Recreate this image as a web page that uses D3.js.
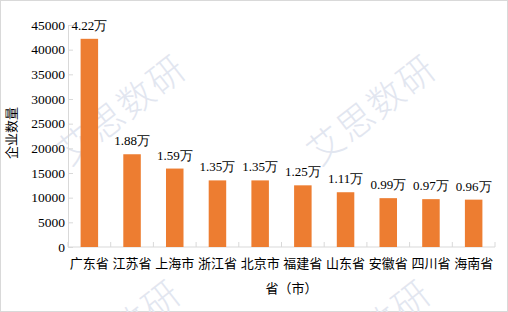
<!DOCTYPE html>
<html>
<head>
<meta charset="utf-8">
<script src="https://cdn.jsdelivr.net/npm/d3@7"></script>
<style>
  body { margin: 0; background: #fff; }
  svg { display: block; }
  .num { font-family: "Liberation Serif", "Times New Roman", serif; font-size: 13px; fill: #000; }
  .tick-num { font-family: "Liberation Serif", "Times New Roman", serif; font-size: 13.5px; fill: #000; }
  .cjk { font-family: "Noto Sans CJK SC", sans-serif; font-size: 13px; fill: #000; }
</style>
</head>
<body>
<svg width="508" height="312"></svg>
<script>
const provinces = ['广东省', '江苏省', '上海市', '浙江省', '北京市', '福建省', '山东省', '安徽省', '四川省', '海南省'];
const companyCounts = [42200, 18800, 15900, 13500, 13500, 12500, 11100, 9900, 9700, 9600];
const valueLabels = ['4.22万', '1.88万', '1.59万', '1.35万', '1.35万', '1.25万', '1.11万', '0.99万', '0.97万', '0.96万'];
const yTicks = [0, 5000, 10000, 15000, 20000, 25000, 30000, 35000, 40000, 45000];

const svg = d3.select('svg');
const width = parseInt(svg.attr('width'));
const height = parseInt(svg.attr('height'));

const margin = { top: 25, right: 13, bottom: 65, left: 68 };
const innerWidth = width - margin.left - margin.right;
const innerHeight = height - margin.top - margin.bottom;

// outer border
svg.append('rect')
  .attr('x', 0.5).attr('y', 0.5)
  .attr('width', width - 1).attr('height', height - 1)
  .attr('fill', '#fff')
  .attr('stroke', '#d9d9d9');

// watermarks, behind everything, clipped to the frame
svg.append('clipPath').attr('id', 'frame')
  .append('rect').attr('width', width).attr('height', height);

const marks = [[122, 110], [372, 110], [117, 335], [367, 335]];
svg.append('g').attr('clip-path', 'url(#frame)')
  .selectAll('.wm').data(marks)
  .enter().append('text')
    .attr('class', 'wm')
    .attr('transform', d => `translate(${d[0]},${d[1]}) rotate(-38)`)
    .attr('text-anchor', 'middle')
    .attr('dy', '0.35em')
    .attr('font-family', '"Noto Sans CJK SC", sans-serif')
    .attr('font-size', 36)
    .attr('font-weight', 300)
    .attr('letter-spacing', 2)
    .attr('fill', '#e2e6f0')
    .text('艾思数研');

const g = svg.append('g')
  .attr('transform', `translate(${margin.left},${margin.top})`);

const xScale = d3.scaleBand()
  .domain(provinces)
  .range([0, innerWidth])
  .paddingInner(0.59)
  .paddingOuter(0.295);

const yScale = d3.scaleLinear()
  .domain([0, 45000])
  .range([innerHeight, 0]);

// y axis
const yAxis = d3.axisLeft(yScale)
  .tickValues(yTicks)
  .tickFormat(d3.format('d'))
  .tickSizeInner(-5)
  .tickSizeOuter(0)
  .tickPadding(3);

const yAxisG = g.append('g').call(yAxis);
yAxisG.attr('font-family', null).attr('font-size', null);
yAxisG.select('.domain').attr('stroke', '#d9d9d9');
yAxisG.selectAll('.tick line').attr('stroke', '#d9d9d9');
yAxisG.selectAll('.tick text').attr('class', 'tick-num').attr('fill', null);

// x axis: ticks between categories
const step = xScale.step();
const xAxisG = g.append('g')
  .attr('transform', `translate(0,${innerHeight})`);
xAxisG.append('line')
  .attr('x1', 0).attr('x2', innerWidth)
  .attr('stroke', '#d9d9d9');
xAxisG.selectAll('.sep').data(d3.range(provinces.length + 1))
  .enter().append('line')
    .attr('class', 'sep')
    .attr('x1', i => i * step).attr('x2', i => i * step)
    .attr('y1', 0).attr('y2', -5)
    .attr('stroke', '#d9d9d9');
xAxisG.selectAll('.cat').data(provinces)
  .enter().append('text')
    .attr('class', 'cjk')
    .attr('x', d => xScale(d) + xScale.bandwidth() / 2)
    .attr('y', 21)
    .attr('text-anchor', 'middle')
    .text(d => d);

// axis titles
g.append('text')
  .attr('class', 'cjk')
  .attr('x', innerWidth / 2 + 10)
  .attr('y', innerHeight + 46)
  .attr('text-anchor', 'middle')
  .text('省（市）');

g.append('text')
  .attr('class', 'cjk')
  .attr('transform', `translate(-52,${108}) rotate(-90)`)
  .attr('text-anchor', 'middle')
  .text('企业数量');

// bars
g.selectAll('.bar').data(provinces)
  .enter().append('rect')
    .attr('class', 'bar')
    .attr('x', d => xScale(d))
    .attr('y', (d, i) => yScale(companyCounts[i]))
    .attr('width', xScale.bandwidth())
    .attr('height', (d, i) => innerHeight - yScale(companyCounts[i]))
    .attr('fill', '#ed7d31');

// value labels
g.selectAll('.val').data(provinces)
  .enter().append('text')
    .attr('class', 'num')
    .attr('x', d => xScale(d) + xScale.bandwidth() / 2)
    .attr('y', (d, i) => yScale(companyCounts[i]) - 9)
    .attr('text-anchor', 'middle')
    .text((d, i) => valueLabels[i]);
</script>
</body>
</html>
